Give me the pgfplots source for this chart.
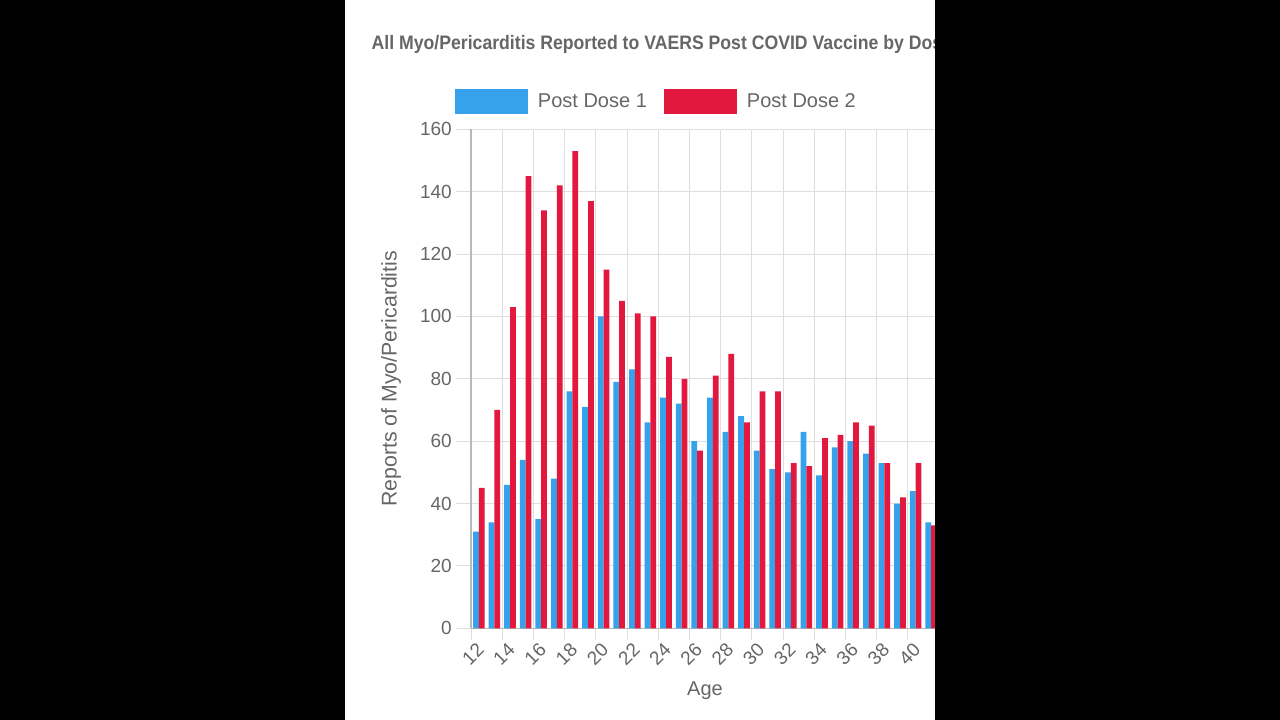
\documentclass[border=0pt]{standalone}
\usepackage{fontspec}
\setmainfont{Liberation Sans}
\newfontfamily\titlefont[FakeStretch=0.905]{Liberation Sans}
\usepackage{pgfplots}
\usepackage{pgfplotstable}
\pgfplotsset{compat=1.18}
\definecolor{dblue}{HTML}{36A2EB}
\definecolor{dred}{HTML}{E2183F}
\definecolor{txtgray}{HTML}{666666}
\definecolor{gridgray}{HTML}{DEDEDE}
\definecolor{axgray}{HTML}{B8B8B8}

\pgfplotstableread{
age dose1 dose2
12 31 45
13 34 70
14 46 103
15 54 145
16 35 134
17 48 142
18 76 153
19 71 137
20 100 115
21 79 105
22 83 101
23 66 100
24 74 87
25 72 80
26 60 57
27 74 81
28 63 88
29 68 66
30 57 76
31 51 76
32 50 53
33 63 52
34 49 61
35 58 62
36 60 66
37 56 65
38 53 53
39 40 42
40 44 53
41 34 33
}\datatable

\begin{document}
\begin{tikzpicture}[x=1pt,y=1pt]
\path[use as bounding box] (0pt,0pt) rectangle (1280pt,720pt);
\fill[black] (0pt,0pt) rectangle (1280pt,720pt);
\fill[white] (345pt,0pt) rectangle (935pt,720pt);
\node[anchor=base west, inner sep=0pt, text=txtgray, font=\titlefont\bfseries\fontsize{19.5}{20}\selectfont] at (371.5pt,670pt) {All Myo/Pericarditis Reported to VAERS Post COVID Vaccine by Dose};
\begin{axis}[
  at={(471pt,91.7pt)}, anchor=south west,
  scale only axis, width=468pt, height=499pt,
  xmin=11.5, xmax=41.5, ymin=0, ymax=160,
  axis x line*=bottom, axis y line*=left,
  axis line style={-, draw=axgray, line width=1.2pt},
  ybar, bar width=0.37,
  xtick={12,14,...,40},
  minor xtick={11.5,13.5,...,41.5},
  ytick={0,20,...,160},
  ymajorgrids, xminorgrids, xmajorgrids=false,
  major grid style={draw=gridgray, line width=1pt},
  minor grid style={draw=gridgray, line width=1pt},
  tick align=outside,
  major tick length=15pt, minor tick length=12pt,
  major x tick style={draw=none},
  minor x tick style={draw=gridgray, line width=1pt},
  major y tick style={draw=gridgray, line width=1pt},
  tick label style={font=\fontsize{19}{19}\selectfont, text=txtgray},
  /pgf/number format/assume math mode=true,
  xticklabel style={rotate=45, anchor=east, inner sep=0pt, yshift=-3.3pt, xshift=-1pt},
  yticklabel style={anchor=east, inner sep=0pt, xshift=-4pt},
  xlabel={Age}, ylabel={Reports of Myo/Pericarditis},
  every axis x label/.style={at={(axis description cs:0.5,-0.1351)}, anchor=base, font=\fontsize{20}{20}\selectfont, text=txtgray},
  every axis y label/.style={at={(axis description cs:-0.1588,0.5)}, rotate=90, anchor=base, font=\fontsize{21.3}{22}\selectfont, text=txtgray},
  legend columns=2,
  legend style={at={(axis description cs:-0.0342,1.0557)}, anchor=west, draw=none, fill=none, inner sep=0pt, outer sep=0pt,
    nodes={inner sep=0pt, text=txtgray, font=\fontsize{20}{20}\selectfont},
    /tikz/every odd column/.append style={column sep=10pt},
    /tikz/every even column/.append style={column sep=17pt}},
  boxlegend/.style={legend image code/.code={\fill[##1] (0pt,-12.6pt) rectangle (73pt,12.6pt);}},
]
\addplot[fill=dblue, draw=none, bar shift=-0.185, boxlegend] table[x=age,y=dose1]{\datatable};
\addlegendentry{Post Dose 1}
\addplot[fill=dred, draw=none, bar shift=0.185, boxlegend] table[x=age,y=dose2]{\datatable};
\addlegendentry{Post Dose 2}
\end{axis}
\fill[black] (935pt,0pt) rectangle (1280pt,720pt);
\end{tikzpicture}
\end{document}
